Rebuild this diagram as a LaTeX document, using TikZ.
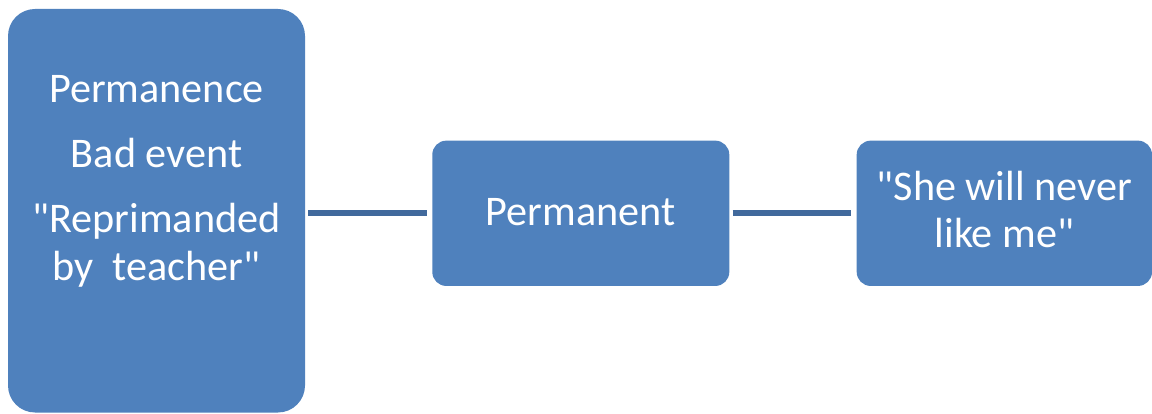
\documentclass[tikz,border=0pt]{standalone}
\usepackage{fontspec}
\setmainfont{Carlito}[Ligatures=TeXOff]
\definecolor{boxblue}{HTML}{4F81BD}
\definecolor{linkblue}{HTML}{41699C}
\begin{document}
\begin{tikzpicture}[x=1pt,y=1pt,
  card/.style={fill=boxblue, draw=none, inner sep=0pt, rectangle},
  bigcard/.style={card, rounded corners=27pt, minimum width=297pt, minimum height=403.5pt},
  smallcard/.style={card, rounded corners=14pt, minimum height=145.3pt},
  txt/.style={text=white, inner sep=0pt, anchor=base, font=\fontsize{42.2}{47}\selectfont},
  link/.style={draw=linkblue, line width=6pt}
]
\useasboundingbox (0,0) rectangle (1152,413);

% boxes
\node[bigcard] (left) at (156.5,202.25) {};
\node[smallcard, minimum width=297pt] (mid) at (580.8,199.7) {};
\node[smallcard, minimum width=295.3pt] (right) at (1004.35,199.7) {};

% texts of the first box
\node[txt] (t1) at (156.5,310) {Permanence};
\node[txt] (t2) at (156.5,245) {Bad event};
\node[txt] (t3) at (156.5,180) {"Reprimanded};
\node[txt] (t4) at (156.5,133) {by\ \ teacher"};

% texts of the other boxes
\node[txt] (t5) at (580.8,187) {Permanent};
\node[txt] (t6) at (1004.35,212) {"She will never};
\node[txt] (t7) at (1004.35,165) {like me"};

% connectors
\draw[link, shorten <=3pt, shorten >=5pt] (left.east |- mid.west) -- (mid.west);
\draw[link, shorten <=3pt, shorten >=6pt] (mid.east) -- (right.west);
\end{tikzpicture}
\end{document}
